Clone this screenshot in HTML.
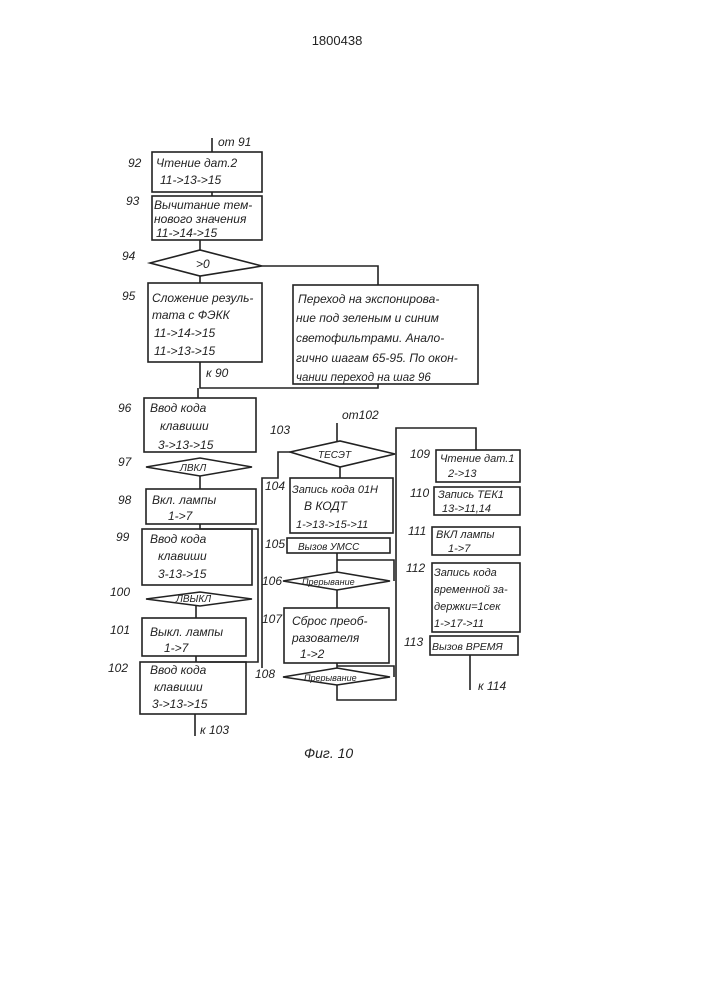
<!DOCTYPE html>
<html><head><meta charset="utf-8"><style>
html,body{margin:0;padding:0;background:#fff}
svg{display:block}
text{font-family:"Liberation Sans","DejaVu Sans",sans-serif;font-style:italic;fill:#222;font-size:12px}
.b{fill:none;stroke:#222;stroke-width:1.6}
</style></head><body>
<svg width="707" height="1000" viewBox="0 0 707 1000" xmlns="http://www.w3.org/2000/svg">
<text x="337" y="45" text-anchor="middle" style="font-style:normal;font-size:13px">1800438</text>
<g class="b">
<!-- left column -->
<path d="M212 138V152"/>
<rect x="152" y="152" width="110" height="40"/>
<path d="M212 192V196"/>
<rect x="152" y="196" width="110" height="44"/>
<path d="M200 240V250"/>
<path d="M150 263L200 250L262 266L200 276Z"/>
<path d="M262 266H378V285"/>
<path d="M200 276V283"/>
<rect x="148" y="283" width="114" height="79"/>
<rect x="293" y="285" width="185" height="99"/>
<path d="M200 362V388H378V384"/>
<path d="M198 388V398"/>
<rect x="144" y="398" width="112" height="54"/>
<path d="M146 467L200 458L252 467L200 476Z"/>
<path d="M200 476V489"/>
<rect x="146" y="489" width="110" height="35"/>
<path d="M200 524V529H258V662H200"/>
<rect x="142" y="529" width="110" height="56"/>
<path d="M146 599L200 592L252 599L200 606Z"/>
<path d="M196 606V618"/>
<rect x="142" y="618" width="104" height="38"/>
<path d="M196 656V662"/>
<rect x="140" y="662" width="106" height="52"/>
<path d="M195 714V736"/>
<!-- middle -->
<path d="M337 423V441"/>
<path d="M290 452L340 441L395 454L340 467Z"/>
<path d="M290 452H278V478H262V668"/>
<path d="M340 467V478"/>
<rect x="290" y="478" width="103" height="55"/>
<rect x="287" y="538" width="103" height="15"/>
<path d="M337 553V572"/>
<path d="M337 560H394V581"/>
<path d="M283 581L337 572L390 581L337 590Z"/>
<path d="M337 590V608"/>
<rect x="284" y="608" width="105" height="55"/>
<path d="M337 663V668"/>
<path d="M337 666H394V677"/>
<path d="M283 677L337 668L390 677L337 685Z"/>
<path d="M337 685V700H396V428H476V450"/>
<!-- right -->
<rect x="436" y="450" width="84" height="32"/>
<rect x="434" y="487" width="86" height="28"/>
<rect x="432" y="527" width="88" height="28"/>
<rect x="432" y="563" width="88" height="69"/>
<rect x="430" y="636" width="88" height="19"/>
<path d="M470 655V690"/>
</g>
<!-- numbers -->
<text x="128" y="167">92</text>
<text x="126" y="205">93</text>
<text x="122" y="260">94</text>
<text x="122" y="300">95</text>
<text x="118" y="412">96</text>
<text x="118" y="466">97</text>
<text x="118" y="504">98</text>
<text x="116" y="541">99</text>
<text x="110" y="596">100</text>
<text x="110" y="634">101</text>
<text x="108" y="672">102</text>
<text x="270" y="434">103</text>
<text x="265" y="490">104</text>
<text x="265" y="548">105</text>
<text x="262" y="585">106</text>
<text x="262" y="623">107</text>
<text x="255" y="678">108</text>
<text x="410" y="458">109</text>
<text x="410" y="497">110</text>
<text x="408" y="535">111</text>
<text x="406" y="572">112</text>
<text x="404" y="646">113</text>
<!-- labels -->
<text x="218" y="146">от 91</text>
<text x="156" y="167">Чтение дат.2</text>
<text x="160" y="184">11-&gt;13-&gt;15</text>
<text x="154" y="209">Вычитание тем-</text>
<text x="154" y="223">нового значения</text>
<text x="156" y="237">11-&gt;14-&gt;15</text>
<text x="196" y="268">&gt;0</text>
<text x="152" y="302">Сложение резуль-</text>
<text x="152" y="319">тата с ФЭКК</text>
<text x="154" y="337">11-&gt;14-&gt;15</text>
<text x="154" y="355">11-&gt;13-&gt;15</text>
<text x="298" y="303">Переход на экспонирова-</text>
<text x="296" y="322">ние под зеленым и синим</text>
<text x="296" y="342">светофильтрами. Анало-</text>
<text x="296" y="362">гично шагам 65-95. По окон-</text>
<text x="296" y="381" style="font-size:11.5px">чании переход на шаг 96</text>
<text x="206" y="377">к 90</text>
<text x="150" y="412">Ввод кода</text>
<text x="160" y="430">клавиши</text>
<text x="158" y="449">3-&gt;13-&gt;15</text>
<text x="180" y="471" style="font-size:10px">ЛВКЛ</text>
<text x="152" y="504">Вкл. лампы</text>
<text x="168" y="520">1-&gt;7</text>
<text x="150" y="543">Ввод кода</text>
<text x="158" y="560">клавиши</text>
<text x="158" y="578">3-13-&gt;15</text>
<text x="176" y="602" style="font-size:10px">ЛВЫКЛ</text>
<text x="150" y="636">Выкл. лампы</text>
<text x="164" y="652">1-&gt;7</text>
<text x="150" y="674">Ввод кода</text>
<text x="154" y="691">клавиши</text>
<text x="152" y="708">3-&gt;13-&gt;15</text>
<text x="200" y="734">к 103</text>
<text x="342" y="419">от102</text>
<text x="318" y="458" style="font-size:10px">ТЕСЭТ</text>
<text x="292" y="493" style="font-size:11px">Запись кода 01Н</text>
<text x="304" y="510">В КОДТ</text>
<text x="296" y="528" style="font-size:11px">1-&gt;13-&gt;15-&gt;11</text>
<text x="298" y="550" style="font-size:10px">Вызов УМСС</text>
<text x="302" y="585" style="font-size:9px">Прерывание</text>
<text x="292" y="625">Сброс преоб-</text>
<text x="292" y="642">разователя</text>
<text x="300" y="658">1-&gt;2</text>
<text x="304" y="681" style="font-size:9px">Прерывание</text>
<text x="440" y="462" style="font-size:11px">Чтение дат.1</text>
<text x="448" y="477" style="font-size:11px">2-&gt;13</text>
<text x="438" y="498" style="font-size:11px">Запись ТЕК1</text>
<text x="442" y="512" style="font-size:11px">13-&gt;11,14</text>
<text x="436" y="538" style="font-size:11px">ВКЛ лампы</text>
<text x="448" y="552" style="font-size:11px">1-&gt;7</text>
<text x="434" y="576" style="font-size:11px">Запись кода</text>
<text x="434" y="593" style="font-size:11px">временной за-</text>
<text x="434" y="610" style="font-size:11px">держки=1сек</text>
<text x="434" y="627" style="font-size:11px">1-&gt;17-&gt;11</text>
<text x="432" y="650" style="font-size:10.5px">Вызов ВРЕМЯ</text>
<text x="478" y="690">к 114</text>
<text x="304" y="758" style="font-size:14px">Фиг. 10</text>
</svg>
</body></html>
